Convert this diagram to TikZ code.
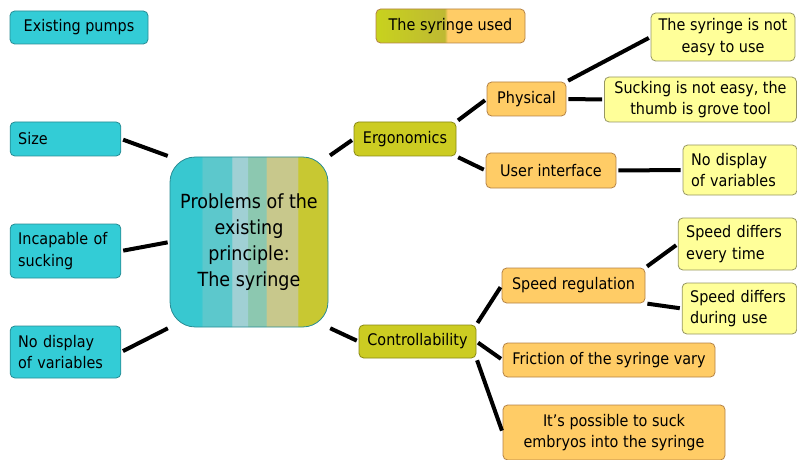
\documentclass[tikz,border=0pt]{standalone}
\usepackage{fontspec}
\setmainfont{DejaVu Sans}[FakeStretch=0.9]
\usepackage{tikz}

\definecolor{cyanfill}{RGB}{51,204,214}
\definecolor{cyanline}{RGB}{40,140,148}
\definecolor{olivefill}{RGB}{204,204,34}
\definecolor{oliveline}{RGB}{136,136,20}
\definecolor{orangefill}{RGB}{255,204,102}
\definecolor{orangeline}{RGB}{180,130,70}
\definecolor{yellowfill}{RGB}{255,255,153}
\definecolor{yellowline}{RGB}{150,150,100}
\definecolor{strA}{RGB}{56,200,208}
\definecolor{strB}{RGB}{92,200,204}
\definecolor{strC}{RGB}{160,208,212}
\definecolor{strD}{RGB}{140,200,176}
\definecolor{strE}{RGB}{200,200,140}
\definecolor{strF}{RGB}{200,200,50}
\definecolor{usedA}{RGB}{200,210,30}
\definecolor{usedB}{RGB}{190,185,50}

\pgfdeclarehorizontalshading{probstripes}{100bp}{color(0bp)=(strA); color(35bp)=(strA); color(35.01bp)=(strB); color(44.5bp)=(strB); color(44.51bp)=(strC); color(49.5bp)=(strC); color(49.51bp)=(strD); color(55.5bp)=(strD); color(55.51bp)=(strE); color(65.5bp)=(strE); color(65.51bp)=(strF); color(100bp)=(strF)}
\pgfdeclarehorizontalshading{usedshade}{100bp}{color(0bp)=(usedA); color(25bp)=(usedA); color(48bp)=(usedB); color(49bp)=(orangefill); color(100bp)=(orangefill)}

\begin{document}
\begin{tikzpicture}[x=0.75pt, y=-0.75pt,
	box/.style={draw, rounded corners=3.5pt, line width=0.6pt, inner sep=2pt, align=center, font=\fontsize{12}{16}\selectfont},
	leftbox/.style={box, align=left, inner xsep=6pt},
	cyanbox/.style={fill=cyanfill, draw=cyanline},
	olivebox/.style={fill=olivefill, draw=oliveline},
	orangebox/.style={fill=orangefill, draw=orangeline},
	yellowbox/.style={fill=yellowfill, draw=yellowline},
	link/.style={line width=3pt, shorten <=1.5pt, shorten >=1.5pt}]
	\useasboundingbox (0,0) rectangle (797,460);

	\node[box, cyanbox, minimum width=103.5pt, minimum height=24.75pt] (pumps) at (79,27.5) {Existing pumps};	% headers
	\node[box, draw=orangeline, shading=usedshade, minimum width=111.75pt, minimum height=25.5pt] (used) at (450.5,26) {The syringe used};

	\node[leftbox, cyanbox, text width=71pt, minimum height=25.5pt] (size) at (65.5,139) {Size};	% left branch
	\node[leftbox, cyanbox, text width=71pt, minimum height=40.5pt] (incap) at (65.5,251) {Incapable of\\sucking};
	\node[leftbox, cyanbox, text width=71pt, minimum height=39pt] (nodispL) at (65.5,352) {No display\\of variables};

	\node[draw=cyanline, line width=0.6pt, rounded corners=19pt, shading=probstripes, align=center, minimum width=118.5pt, minimum height=127.5pt, font=\fontsize{14.6}{19.5}\selectfont] (prob) at (249,242) {Problems of the\\existing\\principle:\\The syringe};	% centre

	\node[box, olivebox, minimum width=76.5pt, minimum height=25.5pt] (ergo) at (405,139) {Ergonomics};	% right branch
	\node[box, olivebox, minimum width=87.75pt, minimum height=24.75pt] (ctrl) at (417.5,341.5) {Controllability};

	\node[box, orangebox, minimum width=59.25pt, minimum height=25.5pt] (phys) at (526.5,99) {Physical};
	\node[box, orangebox, minimum width=97.5pt, minimum height=26.25pt] (ui) at (551,170.5) {User interface};
	\node[box, orangebox, minimum width=107.25pt, minimum height=26.25pt] (speed) at (573.5,285.5) {Speed regulation};
	\node[box, orangebox, minimum width=159pt, minimum height=25.5pt] (fric) at (609,360) {Friction of the syringe vary};
	\node[box, orangebox, minimum width=166.5pt, minimum height=41.25pt] (suckemb) at (614,432.5) {It’s possible to suck\\embryos into the syringe};

	\node[box, yellowbox, minimum width=108pt, minimum height=36pt] (easy) at (723,37) {The syringe is not\\easy to use};	% leaves
	\node[box, yellowbox, minimum width=144pt, minimum height=33.75pt] (thumb) at (700.5,99.5) {Sucking is not easy, the\\thumb is grove tool};
	\node[leftbox, yellowbox, text width=73.5pt, minimum height=37.5pt] (nodispR) at (740,170) {No display\\of variables};
	\node[leftbox, yellowbox, text width=77pt, minimum height=39pt] (every) at (737.5,244) {Speed differs\\every time};
	\node[leftbox, yellowbox, text width=74pt, minimum height=38.25pt] (during) at (739.5,308.5) {Speed differs\\during use};

	\draw[link] (size.east) -- (prob.north west);	% connectors
	\draw[link] (incap.east) -- (prob.west);
	\draw[link] (nodispL.east) -- (prob.south west);
	\draw[link] (prob.north east) -- (ergo.west);
	\draw[link] (prob.south east) -- (ctrl.west);
	\draw[link] (ergo.north east) -- (phys.west);
	\draw[link] (ergo.south east) -- (ui.west);
	\draw[link] (phys.north east) -- (easy.west);
	\draw[link] (phys.east) -- (thumb.west);
	\draw[link] (ui.east) -- (nodispR.west);
	\draw[link] (ctrl.north east) -- (speed.west);
	\draw[link] (ctrl.east) -- (fric.west);
	\draw[link] (ctrl.south east) -- (suckemb.west);
	\draw[link] (speed.north east) -- (every.west);
	\draw[link] (speed.south east) -- (during.west);
\end{tikzpicture}
\end{document}
